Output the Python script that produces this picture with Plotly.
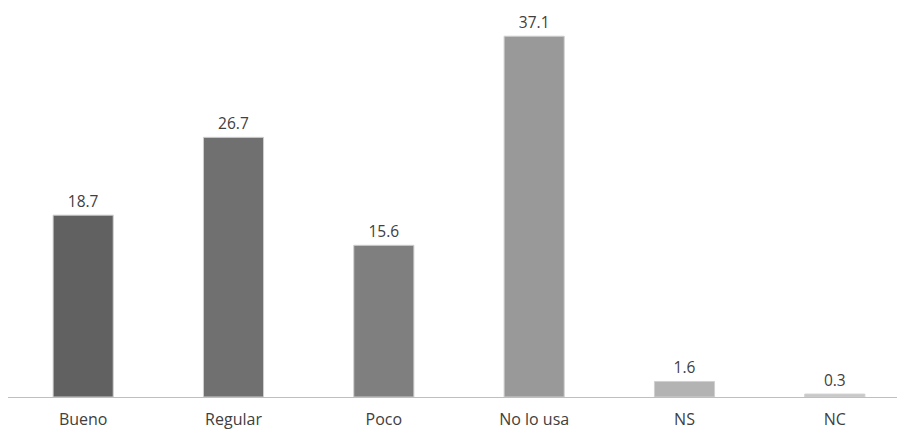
import plotly.graph_objects as go

categories = ["Bueno", "Regular", "Poco", "No lo usa", "NS", "NC"]
values = [18.7, 26.7, 15.6, 37.1, 1.6, 0.3]
labels = ["18.7", "26.7", "15.6", "37.1", "1.6", "0.3"]
colors = ["#616161", "#707070", "#7f7f7f", "#999999", "#b3b3b3", "#c8c8c8"]

fig = go.Figure(go.Bar(
    x=categories, y=values, text=labels, textposition="outside",
    marker=dict(color=colors, line=dict(color="#d0d0d0", width=1)),
    textfont=dict(family="Open Sans", size=15.5, color="#404040"),
    cliponaxis=False, width=0.4,
))

fig.update_layout(
    width=905, height=429,
    margin=dict(l=0, r=0, t=0, b=40),
    paper_bgcolor="white", plot_bgcolor="white",
    showlegend=False,
    xaxis=dict(range=[-0.5, 5.52], showline=True, linecolor="#bfbfbf", linewidth=1,
               ticks="", ticklabelstandoff=8,
               tickfont=dict(family="Open Sans", size=16, color="#404040")),
    yaxis=dict(range=[0, 40.0], visible=False, showgrid=False),
)

fig.write_html("out.html")
